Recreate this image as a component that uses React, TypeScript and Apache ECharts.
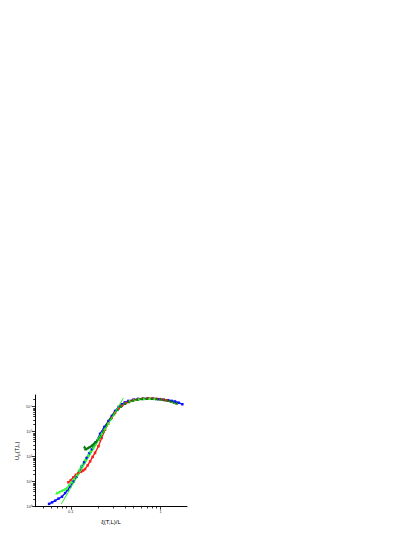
import React, { useEffect, useRef } from "react";
import * as echarts from "echarts";

// [ξ/L, U_p]
const blueData: number[][] = [
  [0.0574, 1.3], [0.062, 1.5], [0.067, 1.74], [0.073, 2.1], [0.0797, 2.5], [0.0865, 3.5], [0.092, 4.6],
  [0.098, 6.4], [0.107, 10], [0.1166, 16], [0.124, 26], [0.1323, 41], [0.141, 60], [0.15, 89],
  [0.16, 135], [0.171, 195], [0.19, 380], [0.212, 830], [0.236, 1550], [0.262, 2680], [0.286, 4300],
  [0.311, 6760], [0.34, 9800], [0.369, 12600], [0.4, 15000], [0.437, 17100], [0.5, 19300],
  [0.564, 20600], [0.64, 21200], [0.728, 21400], [0.83, 20900], [0.94, 20000], [1.07, 19100],
  [1.21, 18200], [1.32, 17200], [1.44, 16200], [1.58, 14500], [1.74, 12600],
];

const redData: number[][] = [
  [0.094, 9.5], [0.1, 11.5], [0.107, 15], [0.114, 19], [0.1216, 22], [0.13, 25], [0.137, 28],
  [0.144, 32], [0.154, 45], [0.164, 65], [0.175, 98], [0.186, 142], [0.203, 263], [0.22, 560],
  [0.24, 1200], [0.26, 2100], [0.285, 3600], [0.31, 5700], [0.34, 8500], [0.37, 11000],
  [0.41, 14200], [0.45, 16600], [0.5, 18600], [0.56, 20000], [0.63, 21000], [0.72, 21400],
  [0.81, 21200], [0.9, 20700], [1.0, 19800], [1.08, 18900], [1.15, 18000],
];

const lightGreenData: number[][] = [
  [0.0699, 3.5], [0.0745, 3.9], [0.0797, 4.4], [0.085, 4.9], [0.0901, 5.5], [0.096, 7.5],
  [0.1024, 10], [0.109, 13.5], [0.1166, 19], [0.124, 29], [0.1323, 44], [0.144, 75],
  [0.157, 121], [0.166, 170], [0.178, 226], [0.19, 330], [0.2, 500], [0.22, 850], [0.24, 1350],
  [0.26, 2200], [0.28, 3300], [0.305, 5200], [0.33, 7500], [0.36, 10500], [0.4, 13500],
  [0.45, 16500], [0.5, 18500], [0.57, 20200], [0.65, 21000], [0.75, 21300], [0.85, 21000], [1.0, 20000],
];

const darkGreenData: number[][] = [
  [0.142, 250], [0.145, 215], [0.147, 206], [0.152, 218], [0.157, 233], [0.164, 256],
  [0.171, 281], [0.178, 325], [0.186, 380], [0.195, 430], [0.203, 490], [0.215, 650],
  [0.23, 1050], [0.25, 1900], [0.275, 3400], [0.3, 5200], [0.33, 7900], [0.36, 10500],
  [0.4, 13600], [0.44, 16000], [0.49, 18200], [0.55, 19800], [0.62, 21000], [0.7, 21500],
  [0.8, 21400], [0.9, 21000], [1.0, 20200], [1.1, 19000], [1.2, 17800], [1.3, 16500],
  [1.4, 15200], [1.5, 13800],
];

const fitLine: number[][] = [
  [0.0785, 1.3], [0.384, 22000],
];

const xMajorTicks = [0.1, 1];
const xMinorTicks = [0.05, 0.06, 0.07, 0.08, 0.09, 0.2, 0.3, 0.4, 0.5, 0.6, 0.7, 0.8, 0.9];
const yMajorTicks = [1, 10, 100, 1000, 10000];
const yMinorMult = [2, 3, 4, 5, 6, 7, 8, 9];
const xRange = [0.04, 1.96];
const yRange = [1, 29500];

const SUP = ["⁰", "¹", "²", "³", "⁴", "⁵"];
const FONT = "Liberation Sans";

const lg = (v: number) => Math.log10(v);
const toLog = (d: number[][]) => d.map(([x, y]) => [lg(x), lg(y)]);

export default function App() {
  const ref = useRef<HTMLDivElement>(null);
  useEffect(() => {
    document.body.style.margin = "0";
    const chart = echarts.init(ref.current!, null, { renderer: "svg" });
    const yMinor: number[] = [];
    for (let k = 0; k < 5; k++) {
      for (const m of yMinorMult) {
        const v = m * Math.pow(10, k);
        if (v < yRange[1]) yMinor.push(lg(v));
      }
    }
    const axisLineStyle = { color: "#000", width: 1 };
    const makeX = (major: boolean) => ({
      type: "value",
      position: "bottom",
      min: lg(xRange[0]),
      max: lg(xRange[1]),
      offset: 0,
      axisLine: { show: major, onZero: false, lineStyle: axisLineStyle },
      splitLine: { show: false },
      axisTick: {
        show: true,
        length: major ? 3 : 1.8,
        lineStyle: { color: "#000", width: 0.8 },
        customValues: (major ? xMajorTicks : xMinorTicks).map(lg),
      },
      axisLabel: {
        show: major,
        customValues: xMajorTicks.map(lg),
        formatter: (v: number) => {
          const r = Math.pow(10, v);
          return Math.abs(r - 1) < 1e-6 ? "1" : String(Math.round(r * 1000) / 1000);
        },
        fontSize: 4,
        fontFamily: FONT,
        color: "#333",
        margin: 3,
      },
      name: major ? "ξ(T,L)/L" : "",
      nameLocation: "middle",
      nameGap: 12,
      nameTextStyle: { fontSize: 6, fontFamily: FONT, color: "#000" },
    });
    const makeY = (major: boolean) => ({
      type: "value",
      position: "left",
      min: lg(yRange[0]),
      max: lg(yRange[1]),
      offset: 0,
      axisLine: { show: major, onZero: false, lineStyle: axisLineStyle },
      splitLine: { show: false },
      axisTick: {
        show: true,
        length: major ? 3 : 1.8,
        lineStyle: { color: "#000", width: 0.8 },
        customValues: major ? yMajorTicks.map(lg) : yMinor,
      },
      axisLabel: {
        show: major,
        customValues: yMajorTicks.map(lg),
        formatter: (v: number) => "10" + SUP[Math.round(v)],
        fontSize: 4,
        fontFamily: FONT,
        color: "#333",
        margin: 3,
      },
      name: major ? "{a|U}{s|p}{a|(T,L)}" : "",
      nameLocation: "middle",
      nameGap: 15,
      nameRotate: 90,
      nameTextStyle: {
        fontFamily: FONT,
        color: "#000",
        rich: {
          a: { fontSize: 6, fontFamily: FONT, color: "#000" },
          s: { fontSize: 4, fontFamily: FONT, color: "#000", padding: [3, 0, 0, 0] },
        },
      },
    });
    const seriesOf = (data: number[][], color: string, symbol: string, size: number) => ({
      type: "line",
      data: toLog(data),
      showSymbol: true,
      symbol,
      symbolSize: size,
      itemStyle: { color },
      lineStyle: { color, width: 1.4 },
      xAxisIndex: 0,
      yAxisIndex: 0,
    });
    chart.setOption({
      animation: false,
      backgroundColor: "#fff",
      grid: { left: 35, top: 395, width: 152, height: 111.7, containLabel: false },
      xAxis: [makeX(true), makeX(false)],
      yAxis: [makeY(true), makeY(false)],
      series: [
        seriesOf(blueData, "#1010ff", "rect", 2.5),
        seriesOf(redData, "#ff1a1a", "rect", 2.5),
        seriesOf(lightGreenData, "#33ff33", "triangle", 3),
        seriesOf(darkGreenData, "#0a7a0a", "triangle", 3),
        {
          type: "line",
          data: toLog(fitLine),
          showSymbol: false,
          symbol: "none",
          lineStyle: { color: "#22ee22", width: 1 },
          z: 5,
          xAxisIndex: 0,
          yAxisIndex: 0,
        },
      ],
    });
    return () => chart.dispose();
  }, []);
  return (
    <div
      ref={ref}
      style={{ position: "absolute", left: 0, top: 0, width: 415, height: 537 }}
    />
  );
}
